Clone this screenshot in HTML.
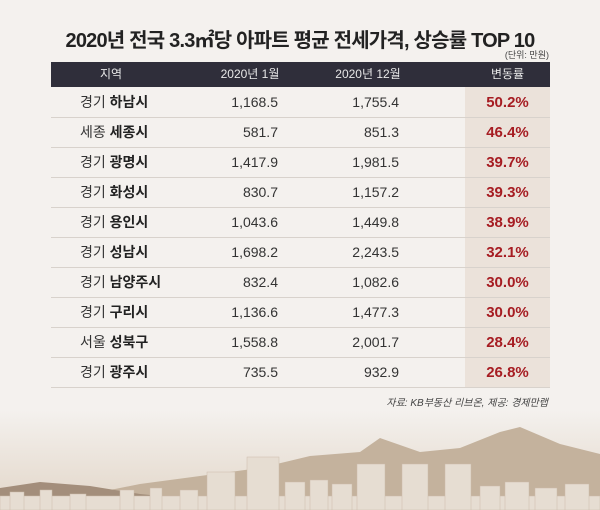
<!DOCTYPE html>
<html><head><meta charset="utf-8">
<style>
body{margin:0;width:600px;height:510px;overflow:hidden;background:#f4f1ee;font-family:"Liberation Sans","Noto Sans CJK KR",sans-serif;position:relative}
.t{position:absolute;white-space:nowrap}
#title{left:0;width:600px;top:24px;text-align:center;font-size:20px;font-weight:bold;color:#222;letter-spacing:-0.8px}
#unit{right:51px;top:48px;font-size:9px;color:#444}
#hdr{position:absolute;left:51px;top:62px;width:499px;height:25px;background:#2f2e3a}
.h{position:absolute;top:62px;height:25px;line-height:25px;color:#e8e8e8;font-size:12px}
.row{position:absolute;left:51px;width:499px;height:30px;border-bottom:1px solid #d8d2cc}
.hl{position:absolute;left:465px;top:87px;width:85px;height:301px;background:#ebe2da}
.c{position:absolute;font-size:14px;color:#333;line-height:31px}
.r{color:#a61c22;font-weight:bold;font-size:15px}
#src{right:52px;top:394px;font-size:10px;color:#444;font-style:italic}
</style></head><body>
<svg style="position:absolute;left:0;top:410px" width="600" height="100">
<defs><linearGradient id="g" x1="0" y1="0" x2="0" y2="1"><stop offset="0" stop-color="#f4f1ee"/><stop offset="1" stop-color="#e2d6c8"/></linearGradient></defs>
<rect width="600" height="100" fill="url(#g)"/>
<path d="M0 80 L40 84 L100 82 L140 74 L200 66 L260 58 L310 46 L360 42 L380 28 L420 42 L460 38 L500 22 L520 17 L560 34 L600 44 L600 100 L0 100Z" fill="#c4b29d"/>
<path d="M0 78 L40 72 L90 76 L140 84 L200 90 L0 100Z" fill="#a38e7b"/>
<g fill="#e6ddd2" stroke="#cbbcab" stroke-width="0.5">
<rect x="0" y="86" width="600" height="14"/>
<rect x="10" y="82" width="14" height="18"/><rect x="40" y="80" width="12" height="20"/><rect x="70" y="84" width="16" height="16"/>
<rect x="120" y="80" width="14" height="20"/><rect x="150" y="78" width="12" height="22"/><rect x="180" y="80" width="18" height="20"/>
<rect x="207" y="62" width="28" height="38"/><rect x="247" y="47" width="32" height="53"/><rect x="285" y="72" width="20" height="28"/>
<rect x="310" y="70" width="18" height="30"/><rect x="332" y="74" width="20" height="26"/>
<rect x="357" y="54" width="28" height="46"/><rect x="402" y="54" width="26" height="46"/><rect x="445" y="54" width="26" height="46"/>
<rect x="480" y="76" width="20" height="24"/><rect x="505" y="72" width="24" height="28"/><rect x="535" y="78" width="22" height="22"/><rect x="565" y="74" width="24" height="26"/>
</g>
</svg>
<div class="t" id="title">2020년 전국 3.3㎡당 아파트 평균 전세가격, 상승률 TOP 10</div>
<div class="t" id="unit">(단위: 만원)</div>
<div id="hdr"></div>
<div class="h" style="left:51px;width:120px;text-align:center">지역</div>
<div class="h" style="left:200px;width:100px;text-align:center">2020년 1월</div>
<div class="h" style="left:318px;width:100px;text-align:center">2020년 12월</div>
<div class="h" style="left:465px;width:85px;text-align:center">변동률</div>
<div class="hl"></div>
<div id="rows"></div>
<div class="t" id="src">자료: KB부동산 리브온, 제공: 경제만랩</div>
<script>
const provinces=["경기","세종","경기","경기","경기","경기","경기","경기","서울","경기"];
const cities=["하남시","세종시","광명시","화성시","용인시","성남시","남양주시","구리시","성북구","광주시"];
const jan=["1,168.5","581.7","1,417.9","830.7","1,043.6","1,698.2","832.4","1,136.6","1,558.8","735.5"];
const dec=["1,755.4","851.3","1,981.5","1,157.2","1,449.8","2,243.5","1,082.6","1,477.3","2,001.7","932.9"];
const rates=["50.2%","46.4%","39.7%","39.3%","38.9%","32.1%","30.0%","30.0%","28.4%","26.8%"];
const root=document.getElementById('rows');
for(let i=0;i<cities.length;i++){
  const top=87+i*30;
  const r=document.createElement('div');r.className='row';r.style.top=top+'px';
  
  
  root.appendChild(r);
  const a=document.createElement('div');a.className='c';a.style.left='80px';a.style.top=top+'px';
  a.innerHTML=provinces[i]+' <b style="color:#222">'+cities[i]+'</b>';
  
  
  root.appendChild(a);
  const b=document.createElement('div');b.className='c';b.style.right=(600-278)+'px';b.style.top=top+'px';b.textContent=jan[i];
  
  
  root.appendChild(b);
  const d=document.createElement('div');d.className='c';d.style.right=(600-399)+'px';d.style.top=top+'px';d.textContent=dec[i];
  
  
  root.appendChild(d);
  const e=document.createElement('div');e.className='c r';e.style.left='465px';e.style.width='85px';e.style.textAlign='center';e.style.top=top+'px';e.textContent=rates[i];
  
  
  root.appendChild(e);
}
</script>
</body></html>
